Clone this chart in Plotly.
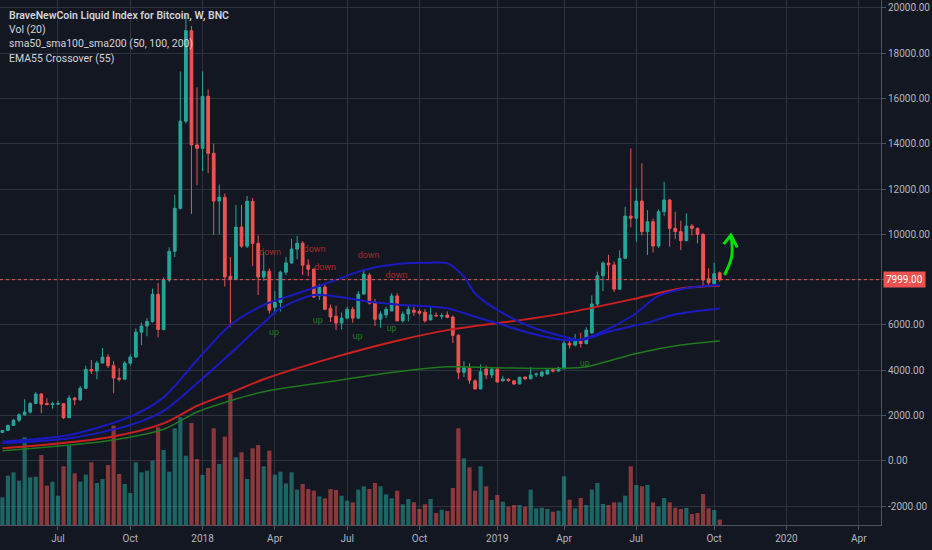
import plotly.graph_objects as go
import pandas as pd

# weekly bars, BraveNewCoin BLX
weeks = pd.date_range("2017-04-24", periods=130, freq="7D")

opens = [1250, 1340, 1560, 1790, 2030, 2150, 2530, 2950, 2530, 2480,
         2500, 2520, 1900, 2770, 2690, 3200, 4030, 3960, 4320, 4580,
         4200, 3650, 3600, 4310, 4580, 5680, 5950, 6150, 7350, 5800,
         7980, 9250, 11150, 15000, 19000, 13950, 13800, 16100, 13580, 11470,
         11640, 8150, 8020, 10320, 9480, 11460, 9600, 8120, 8370, 6780,
         6990, 8330, 8740, 9350, 9610, 8640, 8460, 7280, 7680, 6740,
         6380, 6080, 6300, 6690, 6300, 7360, 8200, 7000, 6250, 6440,
         6620, 7280, 6180, 6480, 6650, 6600, 6560, 6220, 6420, 6380,
         6440, 6350, 5540, 3910, 4090, 3530, 3170, 4050, 3790, 4050,
         3530, 3600, 3530, 3390, 3700, 3620, 3800, 3750, 3830, 4020,
         3960, 4060, 5190, 5110, 5290, 5170, 5650, 6920, 8170, 8730,
         8650, 7580, 8940, 10810, 10710, 11470, 10120, 10560, 9485, 11000,
         11520, 10265, 10120, 9720, 10370, 10265, 10000, 8040, 7820, 8300]

highs = [1350, 1600, 1850, 2100, 2720, 2580, 3030, 2980, 2760, 2600,
         2650, 2540, 2900, 2820, 3300, 4200, 4450, 4420, 4980, 4700,
         4400, 4100, 4400, 4700, 5850, 6100, 6300, 7600, 7850, 8100,
         9430, 11750, 17200, 19700, 19200, 16500, 17200, 16400, 14000, 12200,
         11800, 9000, 11290, 11300, 11700, 11600, 9950, 9200, 8500, 7500,
         8400, 9000, 9800, 9930, 9700, 8900, 8500, 7800, 7800, 6900,
         6850, 6550, 6800, 6800, 7500, 8470, 8300, 7150, 6600, 6800,
         7400, 7400, 6600, 6850, 6800, 6700, 6700, 6830, 6550, 6520,
         6600, 6420, 5600, 4400, 4300, 3600, 4250, 4200, 4100, 4100,
         3750, 3650, 3550, 3700, 3720, 4140, 3900, 3950, 4010, 4100,
         4150, 5300, 5450, 5600, 5650, 5900, 7300, 8350, 8800, 9100,
         8800, 9300, 11220, 13800, 12030, 13140, 11075, 10700, 11100, 12325,
         11550, 11000, 10600, 10930, 10450, 10300, 10050, 8500, 8745, 8360]

lows = [1240, 1330, 1540, 1700, 2000, 2080, 2500, 2100, 2450, 2300,
        2480, 1840, 1880, 2450, 2650, 3180, 3830, 3600, 4300, 4100,
        2980, 3500, 3580, 4200, 4550, 5100, 5500, 6100, 5450, 5750,
        7900, 9000, 11100, 14900, 10900, 12170, 12800, 12700, 9970, 10000,
        7700, 5900, 8000, 9400, 9400, 8600, 7320, 7950, 6500, 6500,
        6600, 8200, 8700, 8900, 8200, 8150, 7200, 7100, 6650, 6130,
        5770, 5800, 6250, 6100, 6250, 7350, 6900, 5950, 5880, 6300,
        6600, 6150, 6100, 6150, 6400, 6450, 6100, 6200, 6380, 6250,
        6300, 5200, 3600, 3700, 3400, 3150, 3170, 3600, 3650, 3450,
        3500, 3480, 3350, 3370, 3560, 3600, 3700, 3700, 3800, 3900,
        3940, 4050, 4950, 5050, 5000, 5150, 5600, 6800, 7500, 8000,
        7450, 7550, 8900, 10310, 9675, 9950, 9090, 9200, 9400, 10800,
        9455, 9800, 9300, 9700, 9950, 9600, 7690, 7700, 7800, 7900]

closes = [1340, 1560, 1790, 2030, 2150, 2530, 2950, 2500, 2480, 2510,
          2520, 1900, 2770, 2690, 3200, 4030, 3960, 4320, 4580, 4200,
          3650, 3600, 4310, 4580, 5680, 5950, 6150, 7350, 5800, 7980,
          9250, 11150, 15000, 19000, 13950, 13800, 16100, 13580, 11470, 11640,
          8120, 8020, 10320, 9480, 11460, 9600, 8120, 8370, 6650, 6990,
          8330, 8740, 9350, 9610, 8640, 8460, 7230, 7680, 6690, 6350,
          6080, 6300, 6690, 6300, 7360, 8240, 6960, 6250, 6480, 6690,
          7280, 6180, 6480, 6690, 6560, 6520, 6180, 6440, 6400, 6410,
          6330, 5540, 3910, 4130, 3560, 3170, 3930, 3790, 4050, 3480,
          3610, 3540, 3390, 3690, 3620, 3790, 3830, 3920, 4010, 3960,
          4090, 5190, 5110, 5290, 5180, 5770, 6920, 8170, 8730, 8650,
          7580, 8940, 10810, 10710, 11470, 10120, 10560, 9485, 11000, 11520,
          10265, 10120, 9720, 10370, 10265, 10000, 7985, 7860, 8260, 7999]

# volume, in the same relative units as the bar heights on screen
volume = [83, 148, 158, 133, 263, 143, 145, 210, 118, 130,
          88, 176, 238, 155, 130, 151, 188, 126, 138, 180,
          298, 153, 123, 96, 188, 158, 163, 193, 293, 225,
          160, 290, 323, 208, 306, 198, 150, 171, 290, 183,
          265, 393, 203, 218, 138, 230, 240, 176, 223, 151,
          160, 125, 158, 106, 123, 108, 103, 86, 80, 108,
          105, 88, 73, 68, 106, 116, 108, 126, 116, 92,
          80, 103, 62, 78, 68, 48, 62, 78, 36, 46,
          42, 111, 290, 200, 173, 103, 176, 116, 75, 90,
          70, 55, 60, 60, 55, 106, 50, 52, 48, 40,
          43, 146, 76, 50, 81, 60, 106, 126, 63, 60,
          68, 68, 88, 176, 120, 116, 120, 68, 55, 81,
          68, 52, 48, 51, 33, 36, 93, 50, 45, 16]

# moving averages, sampled off the chart
sma50_dates = ["2017-04-24", "2017-07-17", "2017-10-02", "2017-11-13", "2017-12-25",
               "2018-02-05", "2018-03-19", "2018-04-30", "2018-06-11", "2018-07-23",
               "2018-09-03", "2018-10-15", "2018-11-05", "2018-11-26", "2018-12-10",
               "2019-01-07", "2019-02-18", "2019-04-01", "2019-04-22", "2019-05-27",
               "2019-07-15", "2019-08-19", "2019-10-14"]
sma50_vals = [840, 1135, 1945, 2800, 4450, 6000, 6880, 7390, 7900, 8420,
              8690, 8750, 8720, 8130, 7390, 6660, 5920, 5480, 5330, 5700,
              6100, 6470, 6730]

ema55_dates = ["2017-04-24", "2017-07-17", "2017-10-02", "2017-11-13", "2017-12-25",
               "2018-02-05", "2018-03-19", "2018-04-09", "2018-05-21", "2018-06-25",
               "2018-07-30", "2018-09-10", "2018-11-05", "2018-12-10", "2019-01-07",
               "2019-02-18", "2019-04-01", "2019-04-22", "2019-05-13", "2019-06-24",
               "2019-07-29", "2019-09-02", "2019-10-14"]
ema55_vals = [770, 990, 1580, 2200, 3420, 4740, 6100, 6730, 7320, 7220,
              7020, 6880, 6730, 6360, 6070, 5630, 5330, 5360, 5600, 6360,
              7280, 7620, 7760]

sma100_dates = ["2017-04-24", "2017-09-04", "2017-11-13", "2017-12-25", "2018-02-05",
                "2018-03-19", "2018-06-11", "2018-09-03", "2018-11-05", "2018-12-10",
                "2019-01-07", "2019-04-01", "2019-07-01", "2019-08-26", "2019-10-14"]
sma100_vals = [548, 1030, 1650, 2420, 3000, 3600, 4520, 5300, 5770, 5950,
               6070, 6510, 7170, 7610, 7730]

sma200_dates = ["2017-04-24", "2017-09-04", "2017-11-13", "2017-12-25", "2018-02-05",
                "2018-03-19", "2018-06-11", "2018-09-03", "2018-11-05", "2019-01-07",
                "2019-04-01", "2019-04-29", "2019-07-01", "2019-08-26", "2019-10-14"]
sma200_vals = [443, 885, 1390, 2150, 2650, 3050, 3500, 3930, 4150, 4110,
               4080, 4150, 4740, 5110, 5290]

# EMA55 crossover markers
down_dates = ["2018-03-27", "2018-05-22", "2018-06-04", "2018-07-29", "2018-09-02"]
down_prices = [9170, 9310, 8510, 9040, 8160]
up_dates = ["2018-04-01", "2018-05-26", "2018-07-15", "2018-08-27", "2019-04-27"]
up_prices = [5640, 6170, 5460, 5820, 4270]

last_price = 7999

# hand drawn arrow
arrow_dates = ["2019-10-20", "2019-10-29", "2019-10-29", "2019-10-28"]
arrow_prices = [8204, 9012, 9750, 9970]
head_dates = ["2019-10-19", "2019-10-28", "2019-11-05"]
head_prices = [9570, 9970, 9427]

x_ticks = ["2017-07-03", "2017-10-02", "2018-01-01", "2018-04-02", "2018-07-02", "2018-10-01",
           "2019-01-07", "2019-04-01", "2019-07-01", "2019-10-07", "2020-01-06", "2020-04-06"]
x_labels = ["Jul", "Oct", "2018", "Apr", "Jul", "Oct", "2019", "Apr", "Jul", "Oct", "2020", "Apr"]
y_ticks = list(range(-2000, 20001, 2000))

BG = "#131722"
GRID = "#2e323f"
TXT = "#b2b5be"
UP = "#26a69a"
DOWN = "#ef5350"
FONT = "Roboto"

vol_colors = ["rgba(38,166,154,0.55)" if c >= o else "rgba(239,83,80,0.55)"
              for o, c in zip(opens, closes)]

fig = go.Figure()

fig.add_trace(go.Bar(x=weeks, y=volume, marker=dict(color=vol_colors, line=dict(width=0)),
                     yaxis="y", hoverinfo="skip"))

fig.add_trace(go.Candlestick(
    x=weeks, open=opens, high=highs, low=lows, close=closes, yaxis="y2",
    increasing=dict(line=dict(color=UP, width=1), fillcolor=UP),
    decreasing=dict(line=dict(color=DOWN, width=1), fillcolor=DOWN),
    whiskerwidth=0,
))

for d, v, col, w in [(sma200_dates, sma200_vals, "#1f7a1f", 1.5),
                     (sma100_dates, sma100_vals, "#cc2020", 2),
                     (sma50_dates, sma50_vals, "#1a1ac0", 2),
                     (ema55_dates, ema55_vals, "#1a1ac0", 2)]:
    fig.add_trace(go.Scatter(x=d, y=v, mode="lines", yaxis="y2", hoverinfo="skip",
                             line=dict(color=col, width=w, shape="spline", smoothing=0.8)))

fig.add_trace(go.Scatter(x=down_dates, y=down_prices, mode="text", text=["down"] * len(down_dates),
                         textfont=dict(family=FONT, size=9, color="#a82828"), yaxis="y2"))
fig.add_trace(go.Scatter(x=up_dates, y=up_prices, mode="text", text=["up"] * len(up_dates),
                         textfont=dict(family=FONT, size=9, color="#1f7a1f"), yaxis="y2"))

fig.add_trace(go.Scatter(x=arrow_dates, y=arrow_prices, mode="lines", yaxis="y2",
                         line=dict(color="#00e000", width=3, shape="spline")))
fig.add_trace(go.Scatter(x=head_dates, y=head_prices, mode="lines", yaxis="y2",
                         line=dict(color="#00e000", width=3)))

# current price line + label
fig.add_shape(type="line", xref="paper", x0=0, x1=1, yref="y2", y0=last_price, y1=last_price,
              line=dict(color=DOWN, width=1, dash="dot"))
fig.add_annotation(xref="paper", x=1, xanchor="left", xshift=2, yref="y2", y=last_price,
                   text=f"{last_price:.2f}", showarrow=False, bgcolor=DOWN, borderpad=2,
                   font=dict(family=FONT, size=10, color="white"))

legend_lines = ["BraveNewCoin Liquid Index for Bitcoin, W, BNC", "Vol (20)",
                "sma50_sma100_sma200 (50, 100, 200)", "EMA55 Crossover (55)"]
for k, line in enumerate(legend_lines):
    fig.add_annotation(xref="paper", yref="paper", x=0.008, y=1 - (15 + 14.4 * k) / 525,
                       xanchor="left", yanchor="middle", showarrow=False, text=line,
                       font=dict(family=FONT, size=10.5, color="#d1d4dc",
                                 weight=600 if k == 0 else 400))

fig.update_layout(
    width=932, height=550,
    margin=dict(l=0, r=51, t=0, b=25),
    paper_bgcolor=BG, plot_bgcolor=BG,
    showlegend=False, hovermode=False,
    bargap=0.25,
    font=dict(family=FONT, size=10, color=TXT),
    xaxis=dict(type="date", range=["2017-04-21", "2020-05-04"],
               tickvals=x_ticks, ticktext=x_labels,
               showgrid=True, gridcolor=GRID, gridwidth=1,
               ticks="outside", ticklen=4, tickcolor="#50535e",
               showline=True, linecolor="#50535e", linewidth=1,
               tickfont=dict(family=FONT, size=10, color=TXT),
               rangeslider=dict(visible=False), automargin=False, zeroline=False),
    yaxis=dict(range=[0, 1575], visible=False, fixedrange=True),
    yaxis2=dict(overlaying="y", side="right", range=[-2839, 20353],
                tickvals=y_ticks,
                ticktext=["" if v == 8000 else f"{v:.2f}" for v in y_ticks],
                showgrid=True, gridcolor=GRID, gridwidth=1, zeroline=False,
                ticks="outside", ticklen=4, tickcolor="#50535e",
                showline=True, linecolor="#50535e", linewidth=1,
                tickfont=dict(family=FONT, size=10, color=TXT), automargin=False),
)

# the page body has a default 8px margin; drop it so the chart sits at the window's corner
fig.write_html("out.html", config={"displayModeBar": False},
               post_script="document.body.style.margin='0';document.body.style.background='#131722';")
